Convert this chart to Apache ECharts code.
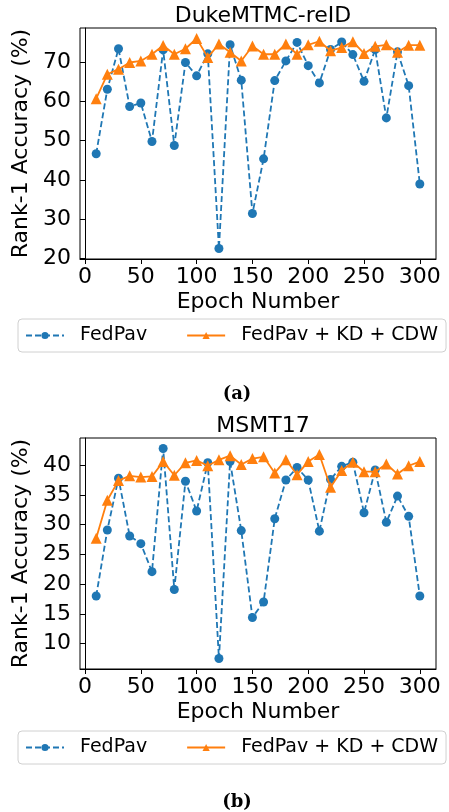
<!DOCTYPE html>
<html>
<head>
<meta charset="utf-8">
<script src="https://cdn.jsdelivr.net/npm/echarts@6/dist/echarts.min.js"></script>
<style>
html,body{margin:0;padding:0;background:#fff;}
#chart{width:449px;height:812px;}
</style>
</head>
<body>
<div id="chart"></div>
<script>
const epochs = [10,20,30,40,50,60,70,80,90,100,110,120,130,140,150,160,170,180,190,200,210,220,230,240,250,260,270,280,290,300];
const dukeFedPav = [46.7,63.1,73.4,58.7,59.6,49.8,73.1,48.8,69.9,66.5,72.1,22.6,74.4,65.4,31.5,45.4,65.3,70.3,75.0,69.1,64.7,73.2,75.1,71.9,65.1,73.2,55.8,72.6,64.0,39.0];
const dukeKdCdw = [60.7,66.9,68.2,69.9,70.3,72.0,74.2,72.0,73.4,76.0,71.2,74.6,72.5,70.3,74.1,72.0,72.0,74.6,72.0,74.4,75.3,72.9,73.7,75.2,72.2,74.0,74.4,72.5,74.3,74.3];
const msmtFedPav = [18.0,29.1,37.8,28.1,26.8,22.1,42.8,19.1,37.3,32.3,40.4,7.5,40.6,29.0,14.4,17.0,31.0,37.5,39.6,37.5,28.9,37.6,39.8,40.5,32.0,39.2,30.4,34.8,31.4,18.0];
const msmtKdCdw = [27.7,34.1,37.4,38.2,38.0,38.1,40.6,38.3,40.4,40.8,39.9,40.9,41.6,40.1,41.1,41.4,38.7,40.9,38.4,40.6,41.8,36.3,39.1,40.5,38.9,38.9,40.2,38.5,39.9,40.6];
const xTicks = [0,50,100,150,200,250,300];
const dukeYTicks = [20,30,40,50,60,70];
const msmtYTicks = [10,15,20,25,30,35,40];
const titles = ['DukeMTMC-reID','MSMT17'];
const seriesNames = ['FedPav','FedPav + KD + CDW'];
const captions = ['(a)','(b)'];

const FONT = 'DejaVu Sans';
const BLUE = '#1f77b4', ORANGE = '#ff7f0e';
const pair = (vals) => epochs.map((e, i) => [e, vals[i]]);

function xAxisDef(gi){
  return {
    gridIndex: gi, type: 'value', min: -4.5, max: 314.5,
    name: 'Epoch Number', nameLocation: 'middle', nameGap: 32,
    nameTextStyle: {fontFamily: FONT, fontSize: 22, color: '#000'},
    axisLine: {show: true, lineStyle: {color: '#000', width: 1}},
    axisTick: {show: true, length: 5, customValues: xTicks, lineStyle: {color: '#000'}},
    axisLabel: {customValues: xTicks, fontFamily: FONT, fontSize: 22, color: '#000', margin: 7},
    splitLine: {show: false}
  };
}
function yAxisDef(gi, min, max, ticks){
  return {
    gridIndex: gi, type: 'value', min: min, max: max,
    name: 'Rank-1 Accuracy (%)', nameLocation: 'middle', nameGap: 35,
    nameTextStyle: {fontFamily: FONT, fontSize: 22, color: '#000'},
    axisLine: {show: true, lineStyle: {color: '#000', width: 1}},
    axisTick: {show: true, length: 5, customValues: ticks, lineStyle: {color: '#000'}},
    axisLabel: {customValues: ticks, fontFamily: FONT, fontSize: 22, color: '#000', margin: 9},
    splitLine: {show: false}
  };
}
function blueSeries(idx, vals){
  return {
    name: seriesNames[0], type: 'line', xAxisIndex: idx, yAxisIndex: idx,
    data: pair(vals), symbol: 'circle', symbolSize: 9,
    itemStyle: {color: BLUE}, lineStyle: {color: BLUE, width: 1.8, type: [6, 3]},
    emphasis: {disabled: true}, animation: false, z: 2
  };
}
function orangeSeries(idx, vals){
  return {
    name: seriesNames[1], type: 'line', xAxisIndex: idx, yAxisIndex: idx,
    data: pair(vals), symbol: 'triangle', symbolSize: 11,
    itemStyle: {color: ORANGE}, lineStyle: {color: ORANGE, width: 1.8, type: 'solid'},
    emphasis: {disabled: true}, animation: false, z: 3
  };
}
function legendDef(top){
  return {
    top: top, left: 18,
    data: seriesNames, orient: 'horizontal',
    itemWidth: 38, itemHeight: 9, itemGap: 39,
    padding: [7, 8, 7, 7],
    borderColor: '#d0d0d0', borderWidth: 1, borderRadius: 4,
    textStyle: {fontFamily: FONT, fontSize: 19, color: '#000', padding: [0, 0, 0, 11]},
    selectedMode: false
  };
}

const chart = echarts.init(document.getElementById('chart'), null, {renderer: 'canvas'});
chart.setOption({
  animation: false,
  backgroundColor: '#fff',
  title: [
    {text: titles[0], left: 258, top: 0, textAlign: 'center', textStyle: {fontFamily: FONT, fontSize: 22, fontWeight: 'normal', color: '#000'}},
    {text: titles[1], left: 258, top: 410, textAlign: 'center', textStyle: {fontFamily: FONT, fontSize: 22, fontWeight: 'normal', color: '#000'}},
    {text: captions[0], left: 232, top: 380, textAlign: 'center', textStyle: {fontFamily: 'DejaVu Serif', fontSize: 18, fontWeight: 'bold', color: '#000'}},
    {text: captions[1], left: 232, top: 788, textAlign: 'center', textStyle: {fontFamily: 'DejaVu Serif', fontSize: 18, fontWeight: 'bold', color: '#000'}}
  ],
  legend: [legendDef(319), legendDef(731)],
  grid: [
    {left: 80, top: 28, width: 356, height: 231, show: true, borderColor: '#000', borderWidth: 1, backgroundColor: 'transparent'},
    {left: 80, top: 438, width: 356, height: 231, show: true, borderColor: '#000', borderWidth: 1, backgroundColor: 'transparent'}
  ],
  xAxis: [xAxisDef(0), xAxisDef(1)],
  yAxis: [yAxisDef(0, 19.93, 78.67, dukeYTicks), yAxisDef(1, 5.735, 44.565, msmtYTicks)],
  series: [
    blueSeries(0, dukeFedPav), orangeSeries(0, dukeKdCdw),
    blueSeries(1, msmtFedPav), orangeSeries(1, msmtKdCdw)
  ]
});
</script>
</body>
</html>
